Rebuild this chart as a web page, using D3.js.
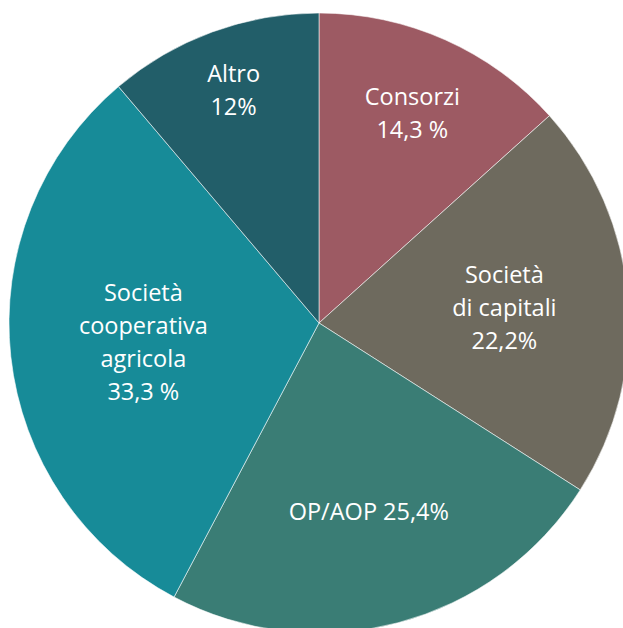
<!DOCTYPE html>
<html>
<head>
<meta charset="utf-8">
<script src="https://cdn.jsdelivr.net/npm/d3@7"></script>
<style>
  html, body { margin: 0; padding: 0; background: #ffffff; overflow: hidden; }
  svg { display: block; }
  .lbl { font-family: "Open Sans", "Noto Sans", sans-serif; font-weight: 400; fill: #ffffff; }
</style>
</head>
<body>
<svg id="chart" width="623" height="628"></svg>
<script>
// Forme giuridiche delle imprese (quote percentuali)
const categories = ["Consorzi", "Società di capitali", "OP/AOP", "Società cooperativa agricola", "Altro"];
const values = [14.3, 22.2, 25.4, 33.3, 12];
// Testo delle etichette: righe del nome, seguite dal valore
const labelLines = [["Consorzi"], ["Società", "di capitali"], ["OP/AOP"], ["Società", "cooperativa", "agricola"], ["Altro"]];
const valueText = ["14,3 %", "22,2%", "25,4%", "33,3 %", "12%"];
const colors = ["#9d5a63", "#6e6a5e", "#3a7d75", "#178b98", "#225e69"];

const width = 623, height = 628;
const cx = 319, cy = 323, radius = 310;
// distanza relativa delle etichette dal centro, per fetta
const labelRadius = [0.74, 0.6, 0.63, 0.57, 0.8];
const fontSize = 23.5, lineH = 33;

const svg = d3.select("#chart");
const g = svg.append("g").attr("transform", `translate(${cx},${cy})`);

const data = categories.map((c, i) => ({ name: c, value: values[i], i }));
const pie = d3.pie().value(d => d.value).sort(null);
const arcs = pie(data);
const arc = d3.arc().innerRadius(0).outerRadius(radius);

g.selectAll("path.slice")
  .data(arcs)
  .join("path")
  .attr("class", "slice")
  .attr("d", arc)
  .attr("fill", d => colors[d.data.i])
  .attr("stroke", "rgba(255,255,255,0.55)")
  .attr("stroke-width", 1);

arcs.forEach(a => {
  const i = a.data.i;
  const r = radius * labelRadius[i];
  const lArc = d3.arc().innerRadius(r).outerRadius(r);
  const [x, y] = lArc.centroid(a);
  const lines = i === 2
    ? [labelLines[i][0] + " " + valueText[i]]
    : labelLines[i].concat([valueText[i]]);
  const n = lines.length;
  const t = g.append("text")
    .attr("class", "lbl")
    .attr("text-anchor", "middle")
    .attr("font-size", fontSize)
    .attr("x", x)
    .attr("y", y - (n - 1) * lineH / 2);
  lines.forEach((s, k) => {
    t.append("tspan").attr("x", x).attr("dy", k === 0 ? "0.35em" : lineH).text(s);
  });
});
</script>
</body>
</html>
